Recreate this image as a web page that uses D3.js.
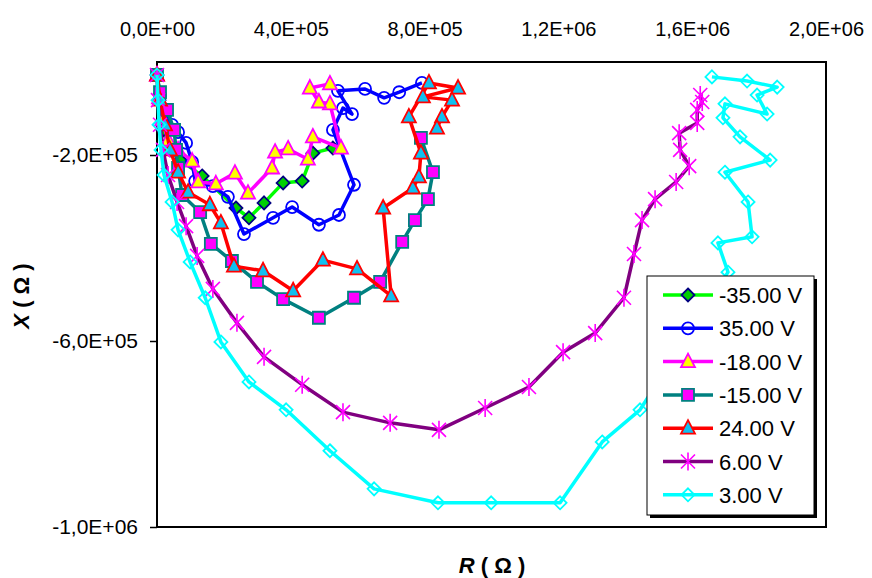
<!DOCTYPE html>
<html>
<head>
<meta charset="utf-8">
<script src="https://cdn.jsdelivr.net/npm/d3@7"></script>
<style>
    body { margin: 0; background: #fff; }
    svg { display: block; font-family: "Liberation Sans", Arial, sans-serif; }
</style>
</head>
<body>
<svg id="chart" width="872" height="578"></svg>
<script>
// values in ohm
var r_m35 = [0, 6e3, 18e3, 39e3, 69e3, 135e3, 236e3, 275e3, 320e3, 377e3, 434e3, 466e3, 526e3];
var x_m35 = [-28e3, -82e3, -146e3, -189e3, -211e3, -245e3, -314e3, -335e3, -303e3, -260e3, -256e3, -196e3, -185e3];

var r_35 = [0, 9e3, 24e3, 45e3, 63e3, 87e3, 105e3, 114e3, 167e3, 212e3, 260e3, 347e3, 404e3, 484e3, 544e3, 589e3, 526e3, 556e3, 583e3, 541e3, 622e3, 679e3, 724e3, 792e3];
var x_35 = [-28e3, -71e3, -114e3, -135e3, -151e3, -174e3, -215e3, -256e3, -267e3, -290e3, -370e3, -335e3, -312e3, -350e3, -329e3, -264e3, -146e3, -99e3, -112e3, -62e3, -58e3, -77e3, -65e3, -45e3];

var r_m18 = [0, 6e3, 15e3, 33e3, 63e3, 105e3, 123e3, 176e3, 233e3, 272e3, 344e3, 353e3, 392e3, 451e3, 466e3, 550e3, 517e3, 484e3, 457e3, 517e3];
var x_m18 = [-28e3, -77e3, -125e3, -168e3, -189e3, -213e3, -258e3, -262e3, -239e3, -282e3, -228e3, -194e3, -187e3, -209e3, -161e3, -185e3, -90e3, -86e3, -56e3, -47e3];

var r_m15 = [0, 9e3, 30e3, 51e3, 57e3, 63e3, 75e3, 129e3, 161e3, 224e3, 299e3, 377e3, 484e3, 589e3, 667e3, 733e3, 771e3, 810e3, 825e3, 789e3];
var x_m15 = [-28e3, -65e3, -103e3, -146e3, -189e3, -228e3, -286e3, -323e3, -391e3, -428e3, -473e3, -510e3, -550e3, -507e3, -473e3, -387e3, -340e3, -295e3, -237e3, -163e3];

var r_24 = [0, 9e3, 24e3, 39e3, 63e3, 93e3, 158e3, 191e3, 230e3, 317e3, 407e3, 496e3, 598e3, 700e3, 676e3, 765e3, 783e3, 789e3, 753e3, 813e3, 900e3, 795e3, 882e3, 852e3, 837e3];
var x_24 = [-28e3, -82e3, -135e3, -189e3, -237e3, -280e3, -307e3, -346e3, -439e3, -449e3, -492e3, -426e3, -445e3, -503e3, -314e3, -271e3, -247e3, -196e3, -118e3, -45e3, -56e3, -75e3, -82e3, -118e3, -142e3];

var r_6 = [0, 3e3, 9e3, 18e3, 33e3, 60e3, 87e3, 120e3, 167e3, 239e3, 320e3, 434e3, 556e3, 697e3, 843e3, 981e3, 1112e3, 1214e3, 1310e3, 1396e3, 1426e3, 1450e3, 1489e3, 1552e3, 1591e3, 1564e3, 1561e3, 1615e3, 1615e3, 1630e3, 1624e3];
var x_6 = [-28e3, -82e3, -135e3, -189e3, -243e3, -301e3, -353e3, -417e3, -488e3, -561e3, -634e3, -694e3, -753e3, -776e3, -791e3, -744e3, -699e3, -624e3, -583e3, -507e3, -413e3, -340e3, -295e3, -258e3, -224e3, -189e3, -153e3, -131e3, -103e3, -86e3, -71e3];

var r_3 = [0, 3e3, 6e3, 12e3, 21e3, 45e3, 63e3, 99e3, 144e3, 191e3, 275e3, 386e3, 517e3, 649e3, 840e3, 999e3, 1205e3, 1331e3, 1444e3, 1588e3, 1707e3, 1677e3, 1779e3, 1767e3, 1698e3, 1833e3, 1743e3, 1692e3, 1698e3, 1824e3, 1794e3, 1854e3, 1764e3, 1659e3];
var x_3 = [-28e3, -82e3, -135e3, -189e3, -243e3, -301e3, -361e3, -430e3, -507e3, -602e3, -688e3, -748e3, -836e3, -918e3, -948e3, -948e3, -948e3, -817e3, -748e3, -587e3, -452e3, -389e3, -376e3, -301e3, -237e3, -211e3, -161e3, -120e3, -90e3, -112e3, -71e3, -54e3, -41e3, -32e3];

var seriesNames = ["-35.00 V", "35.00 V", "-18.00 V", "-15.00 V", "24.00 V", "6.00 V", "3.00 V"];
var xTicks = [0, 4e5, 8e5, 1.2e6, 1.6e6, 2e6];
var yTicks = [-2e5, -6e5, -1e6];

var series = [
    {name: seriesNames[0], r: r_m35, x: x_m35, line: "#00FF00", shape: "diamond", fill: "#00D000", stroke: "#000080"},
    {name: seriesNames[1], r: r_35, x: x_35, line: "#0000FF", shape: "circle", fill: "none", stroke: "#0000FF"},
    {name: seriesNames[2], r: r_m18, x: x_m18, line: "#FF00FF", shape: "triangle", fill: "#FFFF00", stroke: "#FF00FF"},
    {name: seriesNames[3], r: r_m15, x: x_m15, line: "#008080", shape: "square", fill: "#FF00FF", stroke: "#008080"},
    {name: seriesNames[4], r: r_24, x: x_24, line: "#FF0000", shape: "triangle", fill: "#10C0F0", stroke: "#FF0000"},
    {name: seriesNames[5], r: r_6, x: x_6, line: "#800080", shape: "star", fill: "none", stroke: "#FF00FF"},
    {name: seriesNames[6], r: r_3, x: x_3, line: "#00FFFF", shape: "diamond", fill: "none", stroke: "#00FFFF"}
];

var shapes = {
    diamond: "M0,-6.5L6.5,0L0,6.5L-6.5,0Z",
    triangle: "M0,-8L7,5.5L-7,5.5Z",
    square: "M-6,-6L6,-6L6,6L-6,6Z",
    circle: "M6,0A6,6 0 1,1 -6,0A6,6 0 1,1 6,0Z",
    star: "M-7,-7L7,7M-7,7L7,-7M0,-9L0,9"
};

// excel style 0,0E+00
function fmtE(v) {
    if (v === 0) return "0,0E+00";
    var e = Math.floor(Math.log10(Math.abs(v)));
    var m = (v / Math.pow(10, e)).toFixed(1).replace(".", ",");
    var es = (e < 0 ? "-" : "+") + (Math.abs(e) < 10 ? "0" : "") + Math.abs(e);
    return m + "E" + es;
}

var svg = d3.select("#chart");
var pLeft = 157, pRight = 826, pTop = 62, pBottom = 527;

var xs = d3.scaleLinear().domain([0, 2e6]).range([pLeft, pRight]);
var ys = d3.scaleLinear().domain([-1e6, 0]).range([pBottom, pTop]);

// top axis labels
var xAxis = svg.append("g")
    .attr("transform", "translate(0," + pTop + ")")
    .call(d3.axisTop(xs).tickValues(xTicks).tickFormat(fmtE).tickSize(0).tickPadding(26));
xAxis.select(".domain").remove();
xAxis.selectAll("text").attr("font-size", 20).attr("font-family", "Liberation Sans, Arial").attr("fill", "#000");

var yAxis = svg.append("g")
    .attr("transform", "translate(" + pLeft + ",0)")
    .call(d3.axisLeft(ys).tickValues(yTicks).tickFormat(fmtE).tickSize(7).tickPadding(12));
yAxis.select(".domain").remove();
yAxis.selectAll("line").attr("stroke", "#000").attr("stroke-width", 1.5);
yAxis.selectAll("text").attr("font-size", 21).attr("font-family", "Liberation Sans, Arial").attr("fill", "#000");

// plot frame
svg.append("rect")
    .attr("x", pLeft).attr("y", pTop)
    .attr("width", pRight - pLeft).attr("height", pBottom - pTop)
    .attr("fill", "none").attr("stroke", "#000").attr("stroke-width", 2);

var line = d3.line()
    .x(function (d) { return xs(d[0]); })
    .y(function (d) { return ys(d[1]); });

series.forEach(function (s) {
    var pts = s.r.map(function (v, i) { return [v, s.x[i]]; });
    var g = svg.append("g");
    g.append("path")
        .attr("d", line(pts))
        .attr("fill", "none")
        .attr("stroke", s.line)
        .attr("stroke-width", 3.5)
        .attr("stroke-linejoin", "round");
    g.selectAll("path.mk")
        .data(pts)
        .enter().append("path")
        .attr("class", "mk")
        .attr("transform", function (d) { return "translate(" + xs(d[0]) + "," + ys(d[1]) + ")"; })
        .attr("d", shapes[s.shape])
        .attr("fill", s.fill)
        .attr("stroke", s.stroke)
        .attr("stroke-width", s.shape === "star" ? 1.6 : 1.8);
});

// legend
var lg = svg.append("g");
lg.append("rect").attr("x", 650).attr("y", 279).attr("width", 167).attr("height", 239).attr("fill", "#000");
lg.append("rect").attr("x", 647).attr("y", 276).attr("width", 167).attr("height", 239)
    .attr("fill", "#fff").attr("stroke", "#000").attr("stroke-width", 1);

series.forEach(function (s, i) {
    var yy = 295 + i * 33.3;
    lg.append("line")
        .attr("x1", 663).attr("x2", 713).attr("y1", yy).attr("y2", yy)
        .attr("stroke", s.line).attr("stroke-width", 3.5);
    lg.append("path")
        .attr("transform", "translate(688," + yy + ")")
        .attr("d", shapes[s.shape])
        .attr("fill", s.fill).attr("stroke", s.stroke)
        .attr("stroke-width", s.shape === "star" ? 1.6 : 1.8);
    lg.append("text")
        .attr("x", 719).attr("y", yy + 8)
        .attr("font-size", 22)
        .text(s.name);
});

// axis titles
var xt = svg.append("text")
    .attr("x", 492).attr("y", 573)
    .attr("text-anchor", "middle")
    .attr("font-size", 22).attr("font-weight", "bold");
xt.append("tspan").attr("font-style", "italic").text("R");
xt.append("tspan").text(" ( Ω )");

var yt = svg.append("text")
    .attr("transform", "translate(29,296) rotate(-90)")
    .attr("text-anchor", "middle")
    .attr("font-size", 22).attr("font-weight", "bold");
yt.append("tspan").attr("font-style", "italic").text("X");
yt.append("tspan").text(" ( Ω )");
</script>
</body>
</html>
